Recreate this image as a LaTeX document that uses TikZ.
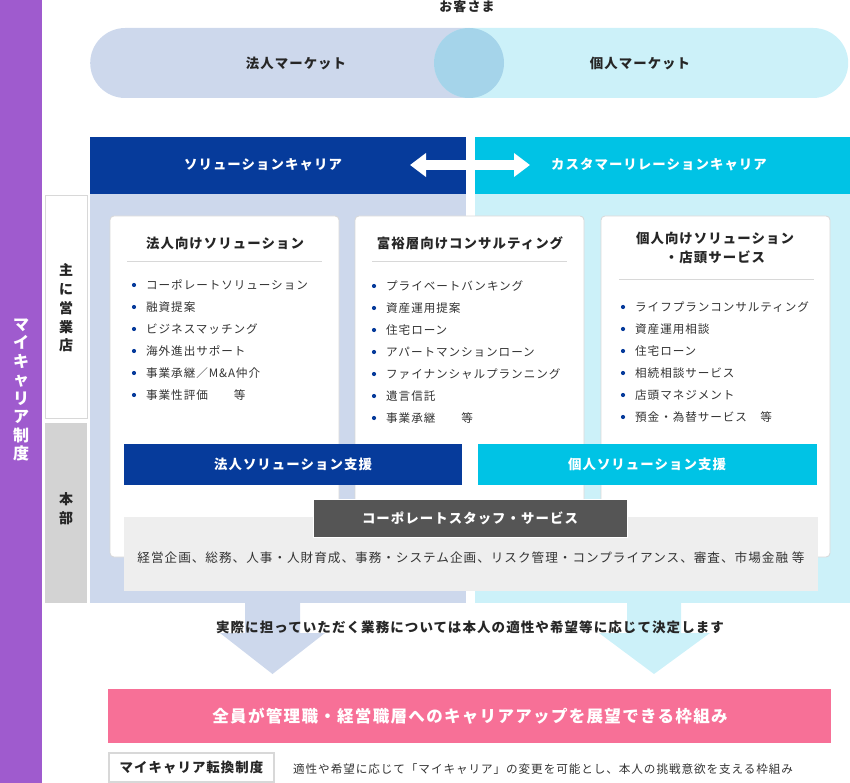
\documentclass[tikz,border=0pt]{standalone}
\usepackage{fontspec}
\setmainfont{Noto Sans CJK JP}[LetterSpace=8]
\usetikzlibrary{arrows.meta}
\definecolor{purp}{HTML}{9F5BCE}
\definecolor{lav}{HTML}{CDD8EC}
\definecolor{lcyan}{HTML}{CCF1F9}
\definecolor{ovl}{HTML}{A5D4EA}
\definecolor{dblue}{HTML}{063B9B}
\definecolor{cyanb}{HTML}{00C3E5}
\definecolor{lblgray}{HTML}{D3D3D3}
\definecolor{dgray}{HTML}{555555}
\definecolor{band}{HTML}{EEEEEE}
\definecolor{pink}{HTML}{F77097}
\definecolor{txtc}{HTML}{333333}
\definecolor{bordc}{HTML}{D8D8D8}
\begin{document}
\begin{tikzpicture}[x=1pt,y=-1pt,
  box/.style={anchor=north west,inner sep=0,outer sep=0},
  bold13/.style={font=\fontsize{13.4}{16}\selectfont\bfseries},
  ttl/.style={bold13,text=black!85},
  wt/.style={bold13,text=white},
  item/.style={anchor=west,inner sep=0,font=\fontsize{11.6}{13}\selectfont,text=txtc},
  bul/.style={circle,fill=dblue,inner sep=0,minimum size=4.2},
  card/.style={box,fill=white,draw=bordc,line width=0.8,rounded corners=4,minimum width=229,minimum height=341},
  sep/.style={draw=bordc,line width=1}
]
\useasboundingbox (0,0) rectangle (850,783);

% purple side bar
\node[box,fill=purp,minimum width=42,minimum height=783] (bar) at (0,0) {};
\node[font=\fontsize{16}{18.5}\selectfont\bfseries,text=white,align=center,inner sep=0] (barlbl) at (21,390) {マ\\イ\\キ\\ャ\\リ\\ア\\制\\度};

% customers
\node[font=\fontsize{13}{15}\selectfont\bfseries,text=black!85,inner sep=0] (cust) at (467,7) {お客さま};
\node[anchor=west,inner sep=0,fill=lav,rounded corners=35,minimum width=414,minimum height=70] (lmkt) at (90,63) {};
\node[anchor=west,inner sep=0,fill=lcyan,rounded corners=35,minimum width=414,minimum height=70] (rmkt) at (434,63) {};
\node[circle,fill=ovl,inner sep=0,minimum size=70] (ovlp) at (469,63) {};
\node[ttl] (lmktt) at (296,63) {法人マーケット};
\node[ttl] (rmktt) at (640,63) {個人マーケット};

% career headers
\node[box,fill=dblue,minimum width=376,minimum height=57] (solh) at (90,137) {};
\node[box,fill=cyanb,minimum width=375,minimum height=57] (cush) at (475,137) {};
\node[wt] (solht) at (263,165) {ソリューションキャリア};
\node[wt] (cusht) at (659,165) {カスタマーリレーションキャリア};
\coordinate (dal) at (410,165);
\coordinate (dar) at (530,165);
\draw[white,line width=10,{Triangle[width=23pt,length=16pt]}-{Triangle[width=23pt,length=16pt]}] (dal) -- (dar);

% panels
\node[box,fill=lav,minimum width=376,minimum height=409] (lpan) at (90,194) {};
\node[box,fill=lcyan,minimum width=375,minimum height=409] (rpan) at (475,194) {};

% down arrows
\fill[lav] (245,602) -- (300,602) -- (300,633) -- (325,633) -- (272.5,674) -- (220,633) -- (245,633) -- cycle;
\fill[lcyan] (627,602) -- (681,602) -- (681,633) -- (710,633) -- (654,674) -- (599,633) -- (627,633) -- cycle;

% left labels
\node[box,fill=white,draw=bordc,line width=0.8,minimum width=42,minimum height=223] (eigyo) at (45,195.5) {};
\node[font=\fontsize{14}{18.8}\selectfont\bfseries,text=black!85,align=center,inner sep=0] (eigyot) at (66,308) {主\\に\\営\\業\\店};
\node[box,fill=lblgray,minimum width=42,minimum height=180] (honbu) at (45,423) {};
\node[font=\fontsize{14}{18.8}\selectfont\bfseries,text=black!85,align=center,inner sep=0] (honbut) at (66,509) {本\\部};

% cards
\node[card] (c1) at (110,216) {};
\node[card] (c2) at (355,216) {};
\node[card] (c3) at (601,216) {};

\node[ttl] (c1t) at (225,243) {法人向けソリューション};
\node[ttl] (c2t) at (470,243) {富裕層向けコンサルティング};
\node[ttl,align=center,font=\fontsize{13.4}{19}\selectfont\bfseries] (c3t) at (715,247.5) {個人向けソリューション\\・店頭サービス};
\draw[sep] (127,262) -- (322,262);
\draw[sep] (372,262) -- (567,262);
\draw[sep] (619,279) -- (814,279);

\foreach \t [count=\i from 0] in {コーポレートソリューション,融資提案,ビジネスマッチング,海外進出サポート,事業承継／M\&A仲介,事業性評価　　等}{
  \node[bul] (ba\i) at (134,285+22*\i) {};
  \node[item] (ta\i) at (146,285+22*\i) {\t};
}
\foreach \t [count=\i from 0] in {プライベートバンキング,資産運用提案,住宅ローン,アパートマンションローン,ファイナンシャルプランニング,遺言信託,事業承継　　等}{
  \node[bul] (bb\i) at (374,286+22*\i) {};
  \node[item] (tb\i) at (386,286+22*\i) {\t};
}
\foreach \t [count=\i from 0] in {ライフプランコンサルティング,資産運用相談,住宅ローン,相続相談サービス,店頭マネジメント,預金・為替サービス　等}{
  \node[bul] (bc\i) at (623,307+22*\i) {};
  \node[item] (tc\i) at (635,307+22*\i) {\t};
}

% support bars
\node[box,fill=dblue,minimum width=338,minimum height=41] (hsup) at (124,444) {};
\node[box,fill=cyanb,minimum width=339,minimum height=41] (ksup) at (478,444) {};
\node[wt] (hsupt) at (293,464.5) {法人ソリューション支援};
\node[wt] (ksupt) at (647,464.5) {個人ソリューション支援};

% corporate staff
\node[box,fill=band,minimum width=694,minimum height=74] (cband) at (123.5,517) {};
\node[box,fill=dgray,draw=white,line width=0.8,minimum width=314,minimum height=38] (corp) at (313,499) {};
\node[wt] (corpt) at (470,518) {コーポレートスタッフ・サービス};
\node[font=\fontsize{12.6}{14}\selectfont,text=txtc,inner sep=0] (cbandt) at (471,558) {経営企画、総務、人事・人財育成、事務・システム企画、リスク管理・コンプライアンス、審査、市場金融 等};

% bottom
\node[font=\fontsize{13.5}{16}\selectfont\bfseries,text=black!85,inner sep=0] (note) at (470,627) {実際に担っていただく業務については本人の適性や希望等に応じて決定します};
\node[box,fill=pink,minimum width=723,minimum height=54] (goal) at (108,689) {};
\node[font=\fontsize{16.5}{19}\selectfont\bfseries,text=white,inner sep=0] (goalt) at (470,716) {全員が管理職・経営職層へのキャリアアップを展望できる枠組み};
\node[box,fill=white,draw=bordc,line width=1.2,minimum width=165,minimum height=29] (mc) at (109,753) {};
\node[font=\fontsize{13.4}{16}\selectfont\bfseries,text=black!85,inner sep=0] (mct) at (191.5,767.5) {マイキャリア転換制度};
\node[anchor=west,font=\fontsize{11.6}{14}\selectfont,text=txtc,inner sep=0] (mcd) at (293,769) {適性や希望に応じて「マイキャリア」の変更を可能とし、本人の挑戦意欲を支える枠組み};
\end{tikzpicture}
\end{document}
